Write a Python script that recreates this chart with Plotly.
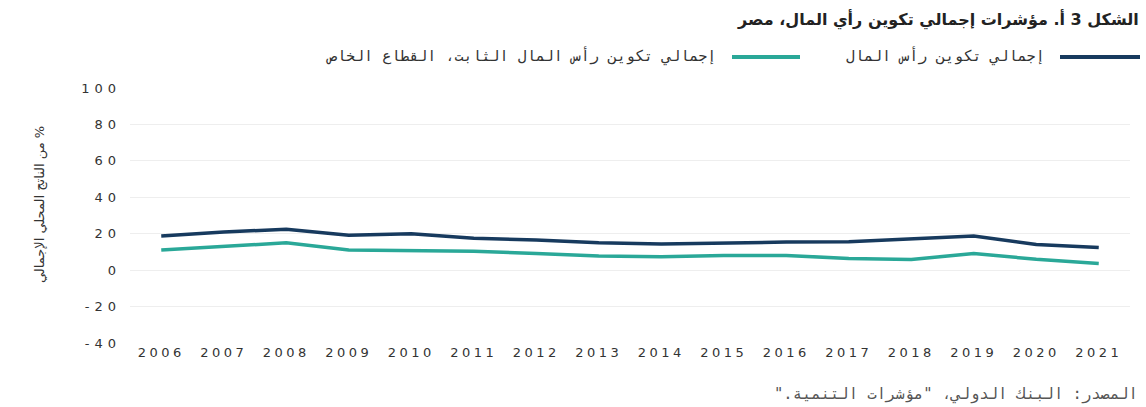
import plotly.graph_objects as go

# Egypt capital formation indicators, % of GDP
years = [str(y) for y in range(2006, 2022)]
gross_capital_formation = [18.8, 20.9, 22.5, 19.2, 20.0, 17.5, 16.5, 15.0, 14.3, 15.0, 15.4, 15.6, 17.0, 18.7, 14.1, 12.4]
private_fixed_capital = [11.0, 13.2, 15.0, 11.0, 10.8, 10.4, 9.1, 7.7, 7.3, 8.0, 8.1, 6.4, 5.9, 9.1, 6.0, 3.7]

y_ticks = [-40, -20, 0, 20, 40, 60, 80, 100]
y_tick_labels = ["-40", "-20", "0", "20", "40", "60", "80", "100"]

RLM = "\u200f"
title_text = "الشكل 3 أ. مؤشرات إجمالي تكوين رأي المال، مصر"
name_gcf = "إجمالي تكوين رأس المال"
name_private = "إجمالي تكوين رأس المال الثابت، القطاع الخاص"
y_title = "% من الناتج المحلي الإجمالي"
source_text = "المصدر: البنك الدولي، \"مؤشرات التنمية.\""

NAVY = "#173a5e"
TEAL = "#2aa898"
TXT = "#333333"
AR_FONT = "DejaVu Sans Mono"

W, H = 1146, 407
L, R, T, B = 130, 16, 88, 64
PW, PH = W - L - R, H - T - B


def px_x(x):
    return (x - L) / PW


def px_y(y):
    return (H - B - y) / PH


def rtl(s):
    return RLM + s + RLM


fig = go.Figure()
fig.add_trace(go.Scatter(x=years, y=gross_capital_formation, mode="lines", name=name_gcf,
                         line=dict(color=NAVY, width=3.5), showlegend=False))
fig.add_trace(go.Scatter(x=years, y=private_fixed_capital, mode="lines", name=name_private,
                         line=dict(color=TEAL, width=3.5), showlegend=False))

# Legend drawn right-to-left: line swatch on the right of each label
shapes = [
    dict(type="line", xref="paper", yref="paper", x0=px_x(1060), x1=px_x(1140),
         y0=px_y(57), y1=px_y(57), line=dict(color=NAVY, width=4)),
    dict(type="line", xref="paper", yref="paper", x0=px_x(732), x1=px_x(800),
         y0=px_y(57), y1=px_y(57), line=dict(color=TEAL, width=4)),
]

annotations = [
    dict(text=f"<b>{rtl(title_text)}</b>", xref="paper", yref="paper", x=px_x(1141), y=px_y(19),
         xanchor="right", yanchor="middle", showarrow=False,
         font=dict(size=16, color="#222222", family="DejaVu Sans")),
    dict(text=rtl(name_gcf), xref="paper", yref="paper", x=px_x(1047), y=px_y(56),
         xanchor="right", yanchor="middle", showarrow=False,
         font=dict(size=15, color=TXT, family=AR_FONT)),
    dict(text=rtl(name_private), xref="paper", yref="paper", x=px_x(718), y=px_y(56),
         xanchor="right", yanchor="middle", showarrow=False,
         font=dict(size=15, color=TXT, family=AR_FONT)),
    dict(text=rtl(source_text), xref="paper", yref="paper", x=px_x(1140), y=px_y(394),
         xanchor="right", yanchor="middle", showarrow=False,
         font=dict(size=15.5, color="#555555", family=AR_FONT)),
    dict(text=rtl(y_title), xref="paper", yref="paper", x=px_x(40), y=px_y(205),
         xanchor="center", yanchor="middle", textangle=-90, showarrow=False,
         font=dict(size=13, color=TXT, family="DejaVu Sans")),
]

fig.update_layout(
    width=W, height=H,
    margin=dict(l=L, r=R, t=T, b=B),
    paper_bgcolor="white", plot_bgcolor="white",
    shapes=shapes, annotations=annotations,
    font=dict(family="DejaVu Sans", color=TXT),
    xaxis=dict(type="category", range=[-0.5, len(years) - 0.5], showgrid=False,
               showline=False, zeroline=False, ticks="",
               tickfont=dict(size=13, color=TXT, family="DejaVu Sans")),
    yaxis=dict(range=[-40, 100], tickvals=y_ticks, ticktext=y_tick_labels,
               showgrid=True, gridcolor="#eeeeee",
               gridwidth=1, zeroline=False, showline=False, ticks="",
               ticklabelstandoff=8,
               tickfont=dict(size=13, color=TXT, family="DejaVu Sans")),
)

# Wider tracking on the numeric tick labels
tracking_js = (
    "var s=document.createElement('style');"
    "s.textContent='.xtick text{letter-spacing:3.5px}.ytick text{letter-spacing:5px}';"
    "document.head.appendChild(s);"
)

fig.write_html("out.html", post_script=tracking_js)
